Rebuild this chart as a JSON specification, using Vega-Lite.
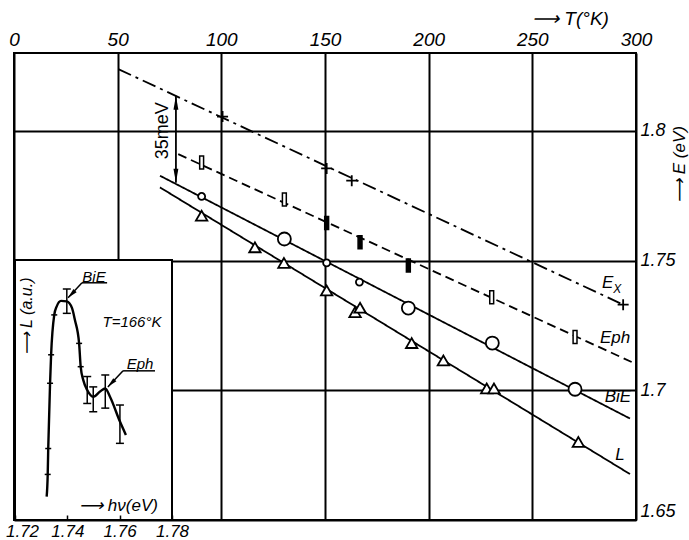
{
 "$schema": "https://vega.github.io/schema/vega-lite/v6.json",
 "width": 622,
 "height": 467,
 "autosize": {"type": "none"},
 "padding": {"left": 14, "top": 53, "right": 53, "bottom": 20},
 "background": "white",
 "config": {
  "view": {"stroke": "black", "strokeWidth": 2},
  "axis": {"domain": false, "labelFont": "Liberation Sans", "labelFontStyle": "italic", "labelColor": "black", "titleFont": "Liberation Sans", "titleFontStyle": "italic", "titleFontWeight": "normal", "titleColor": "black"},
  "text": {"font": "Liberation Sans", "fontStyle": "italic", "color": "black"}
 },
 "datasets": {
  "lines": [
   {"series": "Ex", "T": 50.3, "E": 1.8238}, {"series": "Ex", "T": 292.5, "E": 1.7335},
   {"series": "Eph", "T": 79.2, "E": 1.791}, {"series": "Eph", "T": 297.9, "E": 1.7109},
   {"series": "BiE", "T": 70.4, "E": 1.7827}, {"series": "BiE", "T": 297.1, "E": 1.6891},
   {"series": "L", "T": 70.4, "E": 1.7782}, {"series": "L", "T": 297.1, "E": 1.6677}
  ],
  "ex": [{"T": 100.6, "E": 1.8055}, {"T": 150.8, "E": 1.7855}, {"T": 162.9, "E": 1.7808}, {"T": 293.8, "E": 1.733}],
  "eph": [
   {"T": 90.5, "E": 1.7878, "fill": "open"}, {"T": 130.4, "E": 1.7735, "fill": "open"},
   {"T": 150.8, "E": 1.7645, "fill": "solid"}, {"T": 166.9, "E": 1.7571, "fill": "solid"},
   {"T": 190.2, "E": 1.7481, "fill": "solid"}, {"T": 230.4, "E": 1.7359, "fill": "open"},
   {"T": 270.6, "E": 1.7205, "fill": "open"}
  ],
  "bie": [
   {"T": 90.5, "E": 1.7747, "sz": "small"}, {"T": 130.4, "E": 1.7583, "sz": "large"},
   {"T": 150.8, "E": 1.7491, "sz": "small"}, {"T": 166.6, "E": 1.7417, "sz": "small"},
   {"T": 190.2, "E": 1.7317, "sz": "large"}, {"T": 230.7, "E": 1.7182, "sz": "large"},
   {"T": 270.6, "E": 1.7004, "sz": "large"}
  ],
  "lum": [
   {"T": 90.5, "E": 1.7673}, {"T": 116.2, "E": 1.7551}, {"T": 130.2, "E": 1.7491},
   {"T": 150.8, "E": 1.7385}, {"T": 164.5, "E": 1.7301}, {"T": 166.9, "E": 1.7318},
   {"T": 191.8, "E": 1.7182}, {"T": 207.1, "E": 1.7115}, {"T": 228.0, "E": 1.7007},
   {"T": 231.5, "E": 1.7007}, {"T": 272.2, "E": 1.6801}
  ],
  "curve": [
   {"hv": 1.7321, "L": 0.97}, {"hv": 1.7325, "L": 1.4}, {"hv": 1.7327, "L": 1.9},
   {"hv": 1.7334, "L": 3.16}, {"hv": 1.7338, "L": 3.71}, {"hv": 1.735, "L": 4.48},
   {"hv": 1.7359, "L": 4.64}, {"hv": 1.7376, "L": 4.75}, {"hv": 1.7398, "L": 4.74},
   {"hv": 1.7418, "L": 4.61}, {"hv": 1.7429, "L": 4.38}, {"hv": 1.7445, "L": 3.93},
   {"hv": 1.7451, "L": 3.48}, {"hv": 1.7461, "L": 3.22}, {"hv": 1.7476, "L": 3.03},
   {"hv": 1.7499, "L": 2.9}, {"hv": 1.7525, "L": 3.0}, {"hv": 1.7545, "L": 3.06},
   {"hv": 1.7563, "L": 2.9}, {"hv": 1.7601, "L": 2.42}, {"hv": 1.7624, "L": 2.16}
  ],
  "cmarks": [
   {"hv": 1.7325, "L": 1.4}, {"hv": 1.7327, "L": 1.9}, {"hv": 1.7334, "L": 3.16},
   {"hv": 1.7338, "L": 3.71}, {"hv": 1.735, "L": 4.48}, {"hv": 1.7445, "L": 3.93},
   {"hv": 1.7451, "L": 3.48}
  ],
  "err": [
   {"hv": 1.7398, "L": 4.51, "L2": 4.98}, {"hv": 1.7476, "L": 2.77, "L2": 3.29},
   {"hv": 1.7499, "L": 2.61, "L2": 3.09}, {"hv": 1.7545, "L": 2.68, "L2": 3.32},
   {"hv": 1.7601, "L": 2.0, "L2": 2.74}
  ]
 },
 "resolve": {"scale": {"x": "independent", "y": "independent"}, "axis": {"x": "independent", "y": "independent"}},
 "layer": [
  {
   "encoding": {
    "x": {"field": "T", "type": "quantitative", "scale": {"domain": [0, 300], "nice": false, "zero": false},
     "axis": {"orient": "top", "values": [0, 50, 100, 150, 200, 250, 300], "ticks": false, "labelPadding": 4, "labelFontSize": 19, "labelFlush": false, "grid": true, "gridColor": "black", "gridWidth": 2, "gridOpacity": 1, "title": "⟶ T(°K)", "titleFontSize": 19, "titleX": 556, "titleY": -35, "titleAlign": "center", "titleBaseline": "middle", "zindex": 0}},
    "y": {"field": "E", "type": "quantitative", "scale": {"domain": [1.65, 1.83], "nice": false, "zero": false},
     "axis": {"orient": "right", "values": [1.65, 1.7, 1.75, 1.8], "labelExpr": "'' + datum.value", "ticks": false, "labelPadding": 4, "labelFontSize": 18, "labelFlush": true, "grid": true, "gridColor": "black", "gridWidth": 2, "gridOpacity": 1, "title": "⟶ E (eV)", "titleAngle": -90, "titleX": 43, "titleY": 111, "titleFontSize": 17, "titleAlign": "center", "titleBaseline": "middle", "zindex": 0}}
   },
   "layer": [
    {"data": {"name": "lines"}, "mark": {"type": "line", "color": "black", "strokeWidth": 1.8},
     "encoding": {"strokeDash": {"field": "series", "type": "nominal", "scale": {"domain": ["Ex", "Eph", "BiE", "L"], "range": [[14, 5, 3, 5], [9, 5], [1, 0], [1, 0]]}, "legend": null}}},
    {"data": {"values": [{"T": 78.1, "E": 1.78, "E2": 1.8135}]}, "mark": {"type": "rule", "color": "black", "strokeWidth": 1.8},
     "encoding": {"y2": {"field": "E2"}}},
    {"data": {"values": [{"T": 78.1, "E": 1.8108, "dir": "up"}, {"T": 78.1, "E": 1.7827, "dir": "down"}]},
     "mark": {"type": "point", "filled": true, "color": "black", "size": 196, "opacity": 1},
     "encoding": {"shape": {"field": "dir", "type": "nominal", "scale": {"domain": ["up", "down"], "range": ["M0,-1L0.35,1L-0.35,1Z", "M0,1L0.35,-1L-0.35,-1Z"]}, "legend": null}}},
    {"data": {"name": "ex"}, "mark": {"type": "point", "shape": "M-1,0L1,0M0,-1L0,1", "size": 121, "color": "black", "strokeWidth": 1.8, "opacity": 1}},
    {"data": {"name": "eph"}, "mark": {"type": "point", "shape": "M-0.3,-1L0.3,-1L0.3,1L-0.3,1Z", "size": 169, "filled": true, "stroke": "black", "strokeWidth": 1.5, "opacity": 1},
     "encoding": {"fill": {"field": "fill", "type": "nominal", "scale": {"domain": ["open", "solid"], "range": ["white", "black"]}, "legend": null}}},
    {"data": {"name": "bie"}, "mark": {"type": "point", "shape": "circle", "filled": true, "fill": "white", "stroke": "black", "strokeWidth": 1.8, "opacity": 1},
     "encoding": {"size": {"field": "sz", "type": "nominal", "scale": {"domain": ["small", "large"], "range": [49, 169]}, "legend": null}}},
    {"data": {"name": "lum"}, "mark": {"type": "point", "shape": "triangle-up", "size": 130, "filled": true, "fill": "white", "stroke": "black", "strokeWidth": 1.8, "opacity": 1}},
    {"data": {"values": [{"T": 286.3, "E": 1.7413, "txt": "E"}, {"T": 289.9, "E": 1.72, "txt": "Eph"}, {"T": 291.3, "E": 1.6973, "txt": "BiE"}, {"T": 292.3, "E": 1.675, "txt": "L"}]},
     "mark": {"type": "text", "fontSize": 17, "align": "center", "baseline": "middle"},
     "encoding": {"text": {"field": "txt", "type": "nominal"}}},
    {"data": {"values": [{"T": 290.9, "E": 1.7392, "txt": "X"}]},
     "mark": {"type": "text", "fontSize": 12, "align": "center", "baseline": "middle"},
     "encoding": {"text": {"field": "txt", "type": "nominal"}}},
    {"data": {"values": [{"T": 71.9, "E": 1.8, "txt": "35meV"}]},
     "mark": {"type": "text", "fontSize": 18, "fontStyle": "normal", "angle": 270, "align": "center", "baseline": "middle"},
     "encoding": {"text": {"field": "txt", "type": "nominal"}}}
   ]
  },
  {
   "encoding": {
    "x": {"field": "hv", "type": "quantitative", "scale": {"domain": [1.72, 1.78], "range": [1, 158], "nice": false, "zero": false},
     "axis": {"orient": "bottom", "values": [1.72, 1.74, 1.76, 1.78], "format": ".2f", "tickSize": -5, "tickWidth": 1.5, "tickColor": "black", "labelPadding": 8, "labelFontSize": 17, "labelFlush": false, "labelOffset": {"condition": {"test": "datum.value < 1.73", "value": 7}, "value": 0}, "grid": false, "title": "⟶ hν(eV)", "titleFontSize": 17, "titleX": 104, "titleY": -15, "titleAlign": "center", "titleBaseline": "middle", "zindex": 1}},
    "y": {"field": "L", "type": "quantitative", "scale": {"domain": [0.52, 5.54], "range": [467, 207], "nice": false, "zero": false},
     "axis": {"orient": "left", "values": [1, 2, 3, 4, 5], "labels": false, "tickSize": -6, "tickWidth": 1.5, "tickColor": "black", "grid": false, "title": null, "zindex": 1}}
   },
   "layer": [
    {"data": {"values": [{"hv": 1.72, "hv2": 1.78, "L": 0.52, "L2": 5.54}]},
     "mark": {"type": "rect", "fill": "white", "stroke": "black", "strokeWidth": 2},
     "encoding": {"x2": {"field": "hv2"}, "y2": {"field": "L2"}}},
    {"data": {"name": "curve"}, "mark": {"type": "line", "color": "black", "strokeWidth": 2.4, "interpolate": "monotone"}},
    {"data": {"name": "cmarks"}, "mark": {"type": "point", "shape": "stroke", "size": 36, "color": "black", "strokeWidth": 1.5, "opacity": 1}},
    {"data": {"name": "err"}, "mark": {"type": "rule", "color": "black", "strokeWidth": 1.5}, "encoding": {"y2": {"field": "L2"}}},
    {"data": {"name": "err"}, "mark": {"type": "tick", "orient": "horizontal", "size": 8, "thickness": 1.5, "color": "black", "opacity": 1}},
    {"data": {"name": "err"}, "mark": {"type": "tick", "orient": "horizontal", "size": 8, "thickness": 1.5, "color": "black", "opacity": 1},
     "encoding": {"y": {"field": "L2", "type": "quantitative", "scale": {"domain": [0.52, 5.54], "range": [467, 207], "nice": false, "zero": false}, "axis": null}}},
    {"data": {"values": [
      {"hv": 1.7456, "L": 5.1, "hv2": 1.7552, "L2": 5.1}, {"hv": 1.7456, "L": 5.1, "hv2": 1.7403, "L2": 4.81},
      {"hv": 1.7613, "L": 3.4, "hv2": 1.7735, "L2": 3.4}, {"hv": 1.7613, "L": 3.4, "hv2": 1.7555, "L2": 3.09}]},
     "mark": {"type": "rule", "color": "black", "strokeWidth": 1.5},
     "encoding": {"x2": {"field": "hv2"}, "y2": {"field": "L2"}}},
    {"data": {"values": [{"hv": 1.7416, "L": 4.88}, {"hv": 1.7568, "L": 3.16}]},
     "mark": {"type": "point", "shape": "M0,-1L0.45,1L-0.45,1Z", "angle": 225, "size": 100, "filled": true, "color": "black", "opacity": 1}},
    {"data": {"values": [{"hv": 1.7502, "L": 5.21, "txt": "BiE"}, {"hv": 1.7647, "L": 4.34, "txt": "T=166°K"}, {"hv": 1.7678, "L": 3.53, "txt": "Eph"}]},
     "mark": {"type": "text", "fontSize": 15, "align": "center", "baseline": "middle"},
     "encoding": {"text": {"field": "txt", "type": "nominal"}}},
    {"data": {"values": [{"hv": 1.7247, "L": 4.45, "txt": "⟶ L (a.u.)"}]},
     "mark": {"type": "text", "fontSize": 16, "angle": 270, "align": "center", "baseline": "middle"},
     "encoding": {"text": {"field": "txt", "type": "nominal"}}}
   ]
  }
 ]
}
